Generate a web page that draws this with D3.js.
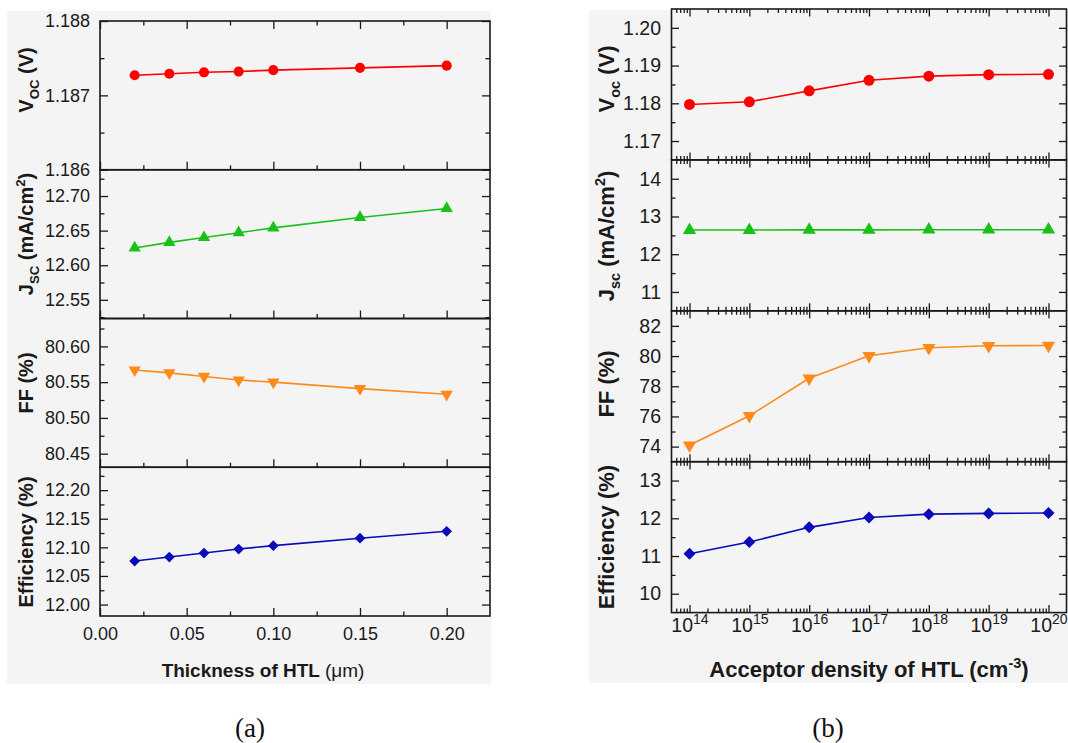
<!DOCTYPE html>
<html><head><meta charset="utf-8">
<script src="https://cdn.jsdelivr.net/npm/d3@7"></script>
<style>html,body{margin:0;padding:0;background:#fff}svg{display:block}</style>
</head><body><svg id="c" width="1068" height="743"></svg>
<script>
// ---------- data ----------
const thickness = [0.02, 0.04, 0.06, 0.08, 0.10, 0.15, 0.20];
const vocA = [1.18727, 1.18729, 1.18731, 1.18732, 1.18734, 1.18737, 1.18740];
const jscA = [12.625, 12.633, 12.640, 12.647, 12.654, 12.669, 12.682];
const ffA  = [80.567, 80.563, 80.558, 80.553, 80.550, 80.541, 80.533];
const effA = [12.076, 12.083, 12.090, 12.097, 12.103, 12.116, 12.128];

const density = [1e14, 1e15, 1e16, 1e17, 1e18, 1e19, 1e20];
const vocB = [1.1797, 1.1804, 1.1833, 1.1861, 1.1872, 1.1876, 1.1877];
const jscB = [12.64, 12.64, 12.645, 12.645, 12.65, 12.65, 12.65];
const ffB  = [74.09, 76.04, 78.53, 80.02, 80.55, 80.68, 80.70];
const effB = [11.06, 11.37, 11.76, 12.02, 12.11, 12.13, 12.14];

const xTicksA = [0.00, 0.05, 0.10, 0.15, 0.20];
const xTicksB = [1e14, 1e15, 1e16, 1e17, 1e18, 1e19, 1e20];
const vocTicksA = [1.186, 1.187, 1.188];
const jscTicksA = [12.55, 12.60, 12.65, 12.70];
const ffTicksA  = [80.45, 80.50, 80.55, 80.60];
const effTicksA = [12.00, 12.05, 12.10, 12.15, 12.20];
const vocTicksB = [1.17, 1.18, 1.19, 1.20];
const jscTicksB = [11, 12, 13, 14];
const ffTicksB  = [74, 76, 78, 80, 82];
const effTicksB = [10, 11, 12, 13];

// ---------- drawing ----------
const svg = d3.select('#c');
const FONT = "Arial, 'Liberation Sans', sans-serif";
const INK = '#1a1a1a';
const COLORS = {voc:'#ff0000', jsc:'#19c219', ff:'#ff8a1a', eff:'#0a0ab8'};

svg.append('rect').attr('x',7).attr('y',11).attr('width',484).attr('height',673).attr('fill','#f4f4f4');
svg.append('rect').attr('x',589).attr('y',10).attr('width',479).attr('height',673).attr('fill','#f4f4f4');

function minorLinear(domain, step, majors){
  const out=[]; const s=Math.ceil(domain[0]/step-1e-9), e=Math.floor(domain[1]/step+1e-9);
  for(let i=s;i<=e;i++){const v=+(i*step).toFixed(6);
    if(v<=domain[0]+1e-9||v>=domain[1]-1e-9) continue;
    if(majors.some(m=>Math.abs(m-v)<step*1e-3)) continue; out.push(v);}
  return out;
}
function minorLog(domain){
  const out=[];
  for(let n=13;n<=20;n++) for(let k=2;k<=9;k++){const v=k*Math.pow(10,n); if(v>domain[0]&&v<domain[1]) out.push(v);}
  return out;
}
function styleAxis(g, fs){
  g.select('.domain').remove();
  g.attr('font-family',FONT).attr('font-size',fs);
  g.selectAll('.tick line').attr('stroke',INK).attr('stroke-width',1.3);
  g.selectAll('.tick text').attr('fill',INK);
}
function richText(sel, parts, fs){
  let shift=0;
  parts.forEach(p=>{
    const mode=p[1]||''; const target = mode==='sub'? fs*0.28 : mode==='sup'? -fs*0.42 : 0;
    sel.append('tspan').attr('dy', target-shift).attr('font-size', mode? fs*0.66 : fs)
      .attr('font-weight', p[2]||'bold').text(p[0]);
    shift=target;
  });
}
function symbolPath(kind, size){
  if(kind==='circle') return d3.symbol().type(d3.symbolCircle).size(size)();
  if(kind==='dia') return d3.symbol().type(d3.symbolSquare).size(size)();
  return d3.symbol().type(d3.symbolTriangle).size(size)();
}
function symbolTransform(kind){
  if(kind==='itri') return ' rotate(180)';
  if(kind==='dia') return ' rotate(45)';
  return '';
}

function drawFigure(cfg){
  const {x, xs, panels, top, bottom, tickFs, titleFs, boundaryTopTicks, majLen, minLen, yPad, xPad} = cfg;
  const [x0,x1]=x.range();
  const h=(bottom-top)/panels.length;
  panels.forEach((p,i)=>{
    const py0=top+i*h, py1=top+(i+1)*h;
    const y=d3.scaleLinear().domain(p.domain).range([py1,py0]);
    const g=svg.append('g');
    const minors=minorLinear(p.domain,p.minorStep,p.ticks);
    g.append('g').attr('transform',`translate(${x0},0)`)
      .call(d3.axisLeft(y).tickValues(p.ticks).tickSize(-majLen).tickPadding(yPad).tickFormat(d3.format(p.fmt)))
      .call(a=>styleAxis(a,tickFs));
    g.append('g').attr('transform',`translate(${x0},0)`)
      .call(d3.axisLeft(y).tickValues(minors).tickSize(-minLen).tickFormat(''))
      .call(a=>styleAxis(a,tickFs));
    g.append('g').attr('transform',`translate(${x1},0)`)
      .call(d3.axisRight(y).tickValues(p.ticks).tickSize(-majLen).tickFormat(''))
      .call(a=>styleAxis(a,tickFs));
    g.append('g').attr('transform',`translate(${x1},0)`)
      .call(d3.axisRight(y).tickValues(minors).tickSize(-minLen).tickFormat(''))
      .call(a=>styleAxis(a,tickFs));
    const isLast = i===panels.length-1;
    const bAx=d3.axisBottom(x).tickValues(cfg.xTicks).tickSize(-majLen).tickPadding(xPad);
    if(!isLast) bAx.tickFormat('');
    else bAx.tickFormat(cfg.xFmt);
    const bg=g.append('g').attr('transform',`translate(0,${py1})`).call(bAx).call(a=>styleAxis(a,tickFs));
    if(isLast && cfg.logLabels){
      bg.selectAll('.tick text').each(function(d){
        const t=d3.select(this); t.text(null);
        t.append('tspan').text('10');
        t.append('tspan').attr('dy',-tickFs*0.42).attr('font-size',tickFs*0.72).text(Math.round(Math.log10(d)));
      });
    }
    g.append('g').attr('transform',`translate(0,${py1})`)
      .call(d3.axisBottom(x).tickValues(cfg.xMinor).tickSize(-minLen).tickFormat(''))
      .call(a=>styleAxis(a,tickFs));
    if(i===0 || boundaryTopTicks){
      g.append('g').attr('transform',`translate(0,${py0})`)
        .call(d3.axisTop(x).tickValues(cfg.xTicks).tickSize(-majLen).tickFormat(''))
        .call(a=>styleAxis(a,tickFs));
      g.append('g').attr('transform',`translate(0,${py0})`)
        .call(d3.axisTop(x).tickValues(cfg.xMinor).tickSize(-minLen).tickFormat(''))
        .call(a=>styleAxis(a,tickFs));
    }
    g.append('rect').attr('x',x0).attr('y',py0).attr('width',x1-x0).attr('height',py1-py0)
      .attr('fill','none').attr('stroke',INK).attr('stroke-width',1.6);
    const pts=xs.map((xv,k)=>[xv,p.values[k]]);
    g.append('path').datum(pts).attr('fill','none').attr('stroke',p.color).attr('stroke-width',1.6)
      .attr('d',d3.line().x(d=>x(d[0])).y(d=>y(d[1])));
    g.selectAll('path.m').data(pts).join('path').attr('class','m')
      .attr('d',symbolPath(p.sym,p.size)).attr('fill',p.color)
      .attr('transform',d=>`translate(${x(d[0])},${y(d[1])})`+symbolTransform(p.sym));
    const t=svg.append('text').attr('font-family',FONT).attr('fill',INK).attr('text-anchor','middle')
      .attr('transform',`translate(${cfg.titleX},${p.titleY}) rotate(-90)`);
    richText(t,p.title,titleFs);
  });
}

// ---- figure (a)
const xA=d3.scaleLinear().domain([0,0.225]).range([100,490]);
drawFigure({
  x:xA, xs:thickness, top:21, bottom:616, tickFs:18, titleFs:20, boundaryTopTicks:false,
  majLen:8, minLen:4.5, yPad:10, xPad:11, titleX:33,
  xTicks:xTicksA, xMinor:[0.025,0.075,0.125,0.175], xFmt:d3.format('.2f'),
  panels:[
    {domain:[1.186,1.188], ticks:vocTicksA, minorStep:0.0005, fmt:'.3f', values:vocA, color:COLORS.voc, sym:'circle', size:80,
     title:[['V'],['OC','sub'],[' (V)']], titleY:80},
    {domain:[12.523,12.738], ticks:jscTicksA, minorStep:0.025, fmt:'.2f', values:jscA, color:COLORS.jsc, sym:'tri', size:66,
     title:[['J'],['SC','sub'],[' (mA/cm'],['2','sup'],[')']], titleY:234},
    {domain:[80.431,80.639], ticks:ffTicksA, minorStep:0.025, fmt:'.2f', values:ffA, color:COLORS.ff, sym:'itri', size:66,
     title:[['FF (%)']], titleY:383},
    {domain:[11.98,12.24], ticks:effTicksA, minorStep:0.025, fmt:'.2f', values:effA, color:COLORS.eff, sym:'dia', size:58,
     title:[['Efficiency (%)']], titleY:542}
  ]
});

// ---- figure (b)
const xB=d3.scaleLog().domain([5e13,2e20]).range([671.5,1066.5]);
drawFigure({
  x:xB, xs:density, top:9, bottom:612.6, tickFs:19.5, titleFs:22, boundaryTopTicks:true,
  majLen:7.5, minLen:4, yPad:10.5, xPad:5.5, titleX:614, logLabels:true,
  xTicks:xTicksB, xMinor:minorLog([5e13,2e20]), xFmt:d=>d,
  panels:[
    {domain:[1.165,1.205], ticks:vocTicksB, minorStep:0.005, fmt:'.2f', values:vocB, color:COLORS.voc, sym:'circle', size:95,
     title:[['V'],['oc','sub'],[' (V)']], titleY:79},
    {domain:[10.5,14.5], ticks:jscTicksB, minorStep:0.5, fmt:'d', values:jscB, color:COLORS.jsc, sym:'tri', size:76,
     title:[['J'],['sc','sub'],[' (mA/cm'],['2','sup'],[')']], titleY:236},
    {domain:[73,83], ticks:ffTicksB, minorStep:1, fmt:'d', values:ffB, color:COLORS.ff, sym:'itri', size:76,
     title:[['FF (%)']], titleY:384},
    {domain:[9.5,13.5], ticks:effTicksB, minorStep:0.5, fmt:'d', values:effB, color:COLORS.eff, sym:'dia', size:72,
     title:[['Efficiency (%)']], titleY:537}
  ]
});

// x titles
const xtA=svg.append('text').attr('font-family',FONT).attr('fill',INK).attr('text-anchor','middle')
  .attr('x',263).attr('y',677);
richText(xtA,[['Thickness of HTL '],['(μm)','', 'normal']],19);
const xtB=svg.append('text').attr('font-family',FONT).attr('fill',INK).attr('text-anchor','middle')
  .attr('x',869).attr('y',677);
richText(xtB,[['Acceptor density of HTL (cm'],['-3','sup'],[')']],22);

// captions
svg.append('text').attr('x',250).attr('y',737).attr('text-anchor','middle')
  .attr('font-family',"'Times New Roman','Liberation Serif',serif").attr('font-size',27).attr('fill','#111').text('(a)');
svg.append('text').attr('x',828).attr('y',737).attr('text-anchor','middle')
  .attr('font-family',"'Times New Roman','Liberation Serif',serif").attr('font-size',27).attr('fill','#111').text('(b)');
</script>
</body></html>
